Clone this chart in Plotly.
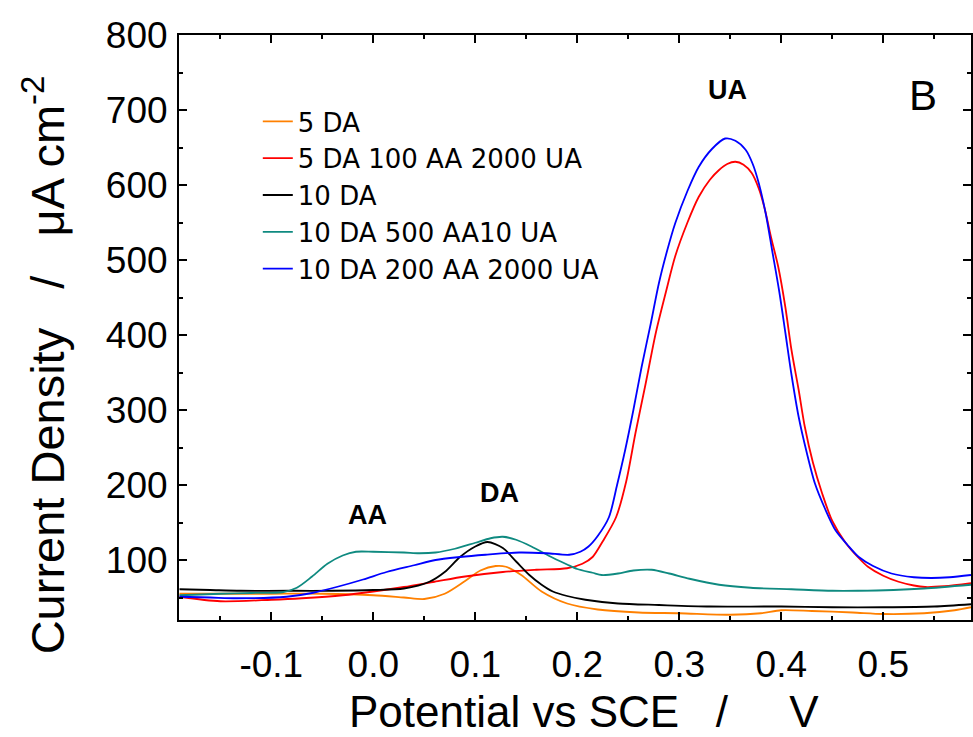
import plotly.graph_objects as go

# Differential pulse voltammograms: current density vs potential (V vs SCE)
series_names = [
    "5 DA",
    "5 DA 100 AA 2000 UA",
    "10 DA",
    "10 DA 500 AA10 UA",
    "10 DA 200 AA 2000 UA",
]
series_colors = ["#FF8000", "#FF0000", "#000000", "#0F8A80", "#0000FF"]

# 5 DA
pot_5da = [-0.19, -0.15, -0.10, -0.05, 0.0, 0.03, 0.05, 0.07, 0.09, 0.105, 0.12, 0.13,
           0.145, 0.165, 0.19, 0.22, 0.26, 0.30, 0.35, 0.38, 0.40, 0.43, 0.47, 0.50,
           0.54, 0.57, 0.586]
cur_5da = [55, 55, 55, 55, 53, 50, 48, 55, 72, 86, 92, 91,
           80, 58, 42, 34, 30, 29, 27, 29, 33, 32, 30, 28,
           29, 33, 37]

# 5 DA 100 AA 2000 UA
pot_5da_aa_ua = [-0.19, -0.15, -0.10, -0.07, -0.03, 0.0, 0.03, 0.06, 0.09, 0.127, 0.16,
                 0.19, 0.205, 0.215, 0.225, 0.238, 0.248, 0.257, 0.267, 0.277, 0.287,
                 0.296, 0.308, 0.319, 0.33, 0.339, 0.347, 0.355, 0.363, 0.371, 0.378,
                 0.384, 0.39, 0.397, 0.404, 0.41, 0.417, 0.423, 0.431, 0.44, 0.45,
                 0.463, 0.475, 0.485, 0.50, 0.515, 0.53, 0.541, 0.56, 0.586]
cur_5da_aa_ua = [51, 45, 47, 49, 53, 58, 64, 71, 78, 84, 87,
                 89, 95, 104, 125, 157, 205, 269, 335, 403, 458,
                 505, 550, 584, 607, 620, 628, 631, 627, 616, 595,
                 567, 530, 491, 437, 380, 327, 278, 230, 189, 152,
                 123, 104, 91, 79, 71, 66, 64, 65, 69]

# 10 DA
pot_10da = [-0.19, -0.16, -0.13, -0.08, -0.04, 0.0, 0.03, 0.055, 0.07, 0.085, 0.10,
            0.112, 0.127, 0.14, 0.153, 0.165, 0.176, 0.19, 0.208, 0.24, 0.28, 0.33,
            0.40, 0.45, 0.50, 0.55, 0.586]
cur_10da = [61, 60, 59, 59, 59, 60, 62, 71, 84, 104, 118,
            124, 116, 98, 80, 67, 58, 52, 47, 42, 40, 38,
            38, 37, 37, 38, 41]

# 10 DA 500 AA 10 UA
pot_10da_aa_ua = [-0.19, -0.15, -0.12, -0.089, -0.075, -0.06, -0.045, -0.03, -0.017,
                  0.0, 0.03, 0.045, 0.061, 0.08, 0.10, 0.115, 0.127, 0.14, 0.155,
                  0.176, 0.19, 0.20, 0.215, 0.224, 0.24, 0.255, 0.273, 0.29, 0.31,
                  0.339, 0.37, 0.41, 0.45, 0.475, 0.51, 0.54, 0.586]
cur_10da_aa_ua = [53, 55, 56, 57, 63, 78, 95, 106, 111,
                  111, 110, 109, 110, 115, 123, 129, 131, 127, 118,
                  103, 94, 88, 83, 80, 82, 86, 87, 82, 75,
                  67, 63, 61, 59, 59, 60, 62, 67]

# 10 DA 200 AA 2000 UA
pot_10da_aa_ua2 = [-0.19, -0.16, -0.134, -0.085, -0.06, -0.036, -0.01, 0.013, 0.04, 0.061,
                   0.085, 0.11, 0.143, 0.17, 0.192, 0.203, 0.211, 0.22, 0.231, 0.239,
                   0.247, 0.255, 0.263, 0.272, 0.28, 0.288, 0.296, 0.308, 0.319, 0.332,
                   0.345, 0.355, 0.365, 0.372, 0.378, 0.385, 0.391, 0.398, 0.404, 0.41,
                   0.417, 0.425, 0.433, 0.443, 0.453, 0.465, 0.476, 0.49, 0.508, 0.53,
                   0.547, 0.565, 0.586]
cur_10da_aa_ua2 = [51, 50, 49, 51, 56, 64, 74, 84, 93, 100,
                   104, 107, 110, 109, 107, 111, 118, 132, 157, 200,
                   247, 300, 357, 415, 469, 512, 549, 592, 624, 648,
                   662, 659, 647, 628, 602, 560, 513, 458, 403, 347,
                   291, 243, 202, 168, 140, 120, 104, 92, 82, 77,
                   76, 77, 80]

series_x = [pot_5da, pot_5da_aa_ua, pot_10da, pot_10da_aa_ua, pot_10da_aa_ua2]
series_y = [cur_5da, cur_5da_aa_ua, cur_10da, cur_10da_aa_ua, cur_10da_aa_ua2]

# Peak labels
peak_labels = ["AA", "DA", "UA"]
peak_label_x = [-0.006, 0.124, 0.347]
peak_label_y = [160, 189, 727]

x_ticks = [-0.1, 0.0, 0.1, 0.2, 0.3, 0.4, 0.5]
x_tick_text = ["-0.1", "0.0", "0.1", "0.2", "0.3", "0.4", "0.5"]
y_ticks = [100, 200, 300, 400, 500, 600, 700, 800]

FONT = "Liberation Sans, Arial, sans-serif"
NB = "\u00a0"

fig = go.Figure()
for name, color, xs, ys in zip(series_names, series_colors, series_x, series_y):
    fig.add_trace(go.Scatter(
        x=xs, y=ys, mode="lines", name=name,
        line=dict(color=color, width=1.8, shape="spline", smoothing=0.8),
    ))

for txt, px, py in zip(peak_labels, peak_label_x, peak_label_y):
    fig.add_annotation(x=px, y=py, text=f"<b>{txt}</b>", showarrow=False,
                       font=dict(family=FONT, size=27, color="black"))

fig.add_annotation(x=0.539, y=720, text="B", showarrow=False,
                   font=dict(family=FONT, size=42, color="black"))

# Axis titles
fig.add_annotation(
    xref="paper", yref="paper", x=(585 - 179) / 794, y=-(712 - 620) / 585,
    text="Potential vs SCE" + NB * 3 + "/" + NB * 5 + "V", showarrow=False,
    font=dict(family=FONT, size=44, color="black"), xanchor="center", yanchor="middle",
)
fig.add_annotation(
    xref="paper", yref="paper", x=-(179 - 44) / 794, y=1 - (365 - 35) / 585,
    text="Current Density" + NB * 3 + "/" + NB * 3 + "\u03bcA cm<sup>-2</sup>",
    textangle=-90, showarrow=False,
    font=dict(family=FONT, size=47, color="black"), xanchor="center", yanchor="middle",
)

axis_common = dict(
    showline=True, linecolor="black", linewidth=2, mirror="ticks",
    ticks="inside", ticklen=8, tickwidth=2, tickcolor="black",
    showgrid=False, zeroline=False,
    tickfont=dict(family=FONT, size=37, color="black"),
)

fig.update_xaxes(
    range=[-0.1905, 0.586], tickvals=x_ticks, ticktext=x_tick_text,
    minor=dict(dtick=0.05, tick0=0, ticks="inside", ticklen=4, tickwidth=2,
               tickcolor="black"),
    ticklabelstandoff=11,
    **axis_common,
)
fig.update_yaxes(
    range=[20, 800], tickvals=y_ticks,
    minor=dict(dtick=50, tick0=0, ticks="inside", ticklen=4, tickwidth=2,
               tickcolor="black"),
    ticklabelstandoff=2,
    **axis_common,
)

fig.update_layout(
    width=973, height=737,
    margin=dict(l=179, r=0, t=35, b=117),
    paper_bgcolor="white", plot_bgcolor="white",
    showlegend=True,
    legend=dict(
        x=(258 - 179) / 794, y=1 - (98 - 35) / 585, xanchor="left", yanchor="top",
        bgcolor="rgba(0,0,0,0)", borderwidth=0,
        font=dict(family="DejaVu Sans, sans-serif", size=26, color="black"),
    ),
)

fig.write_html("out.html")
